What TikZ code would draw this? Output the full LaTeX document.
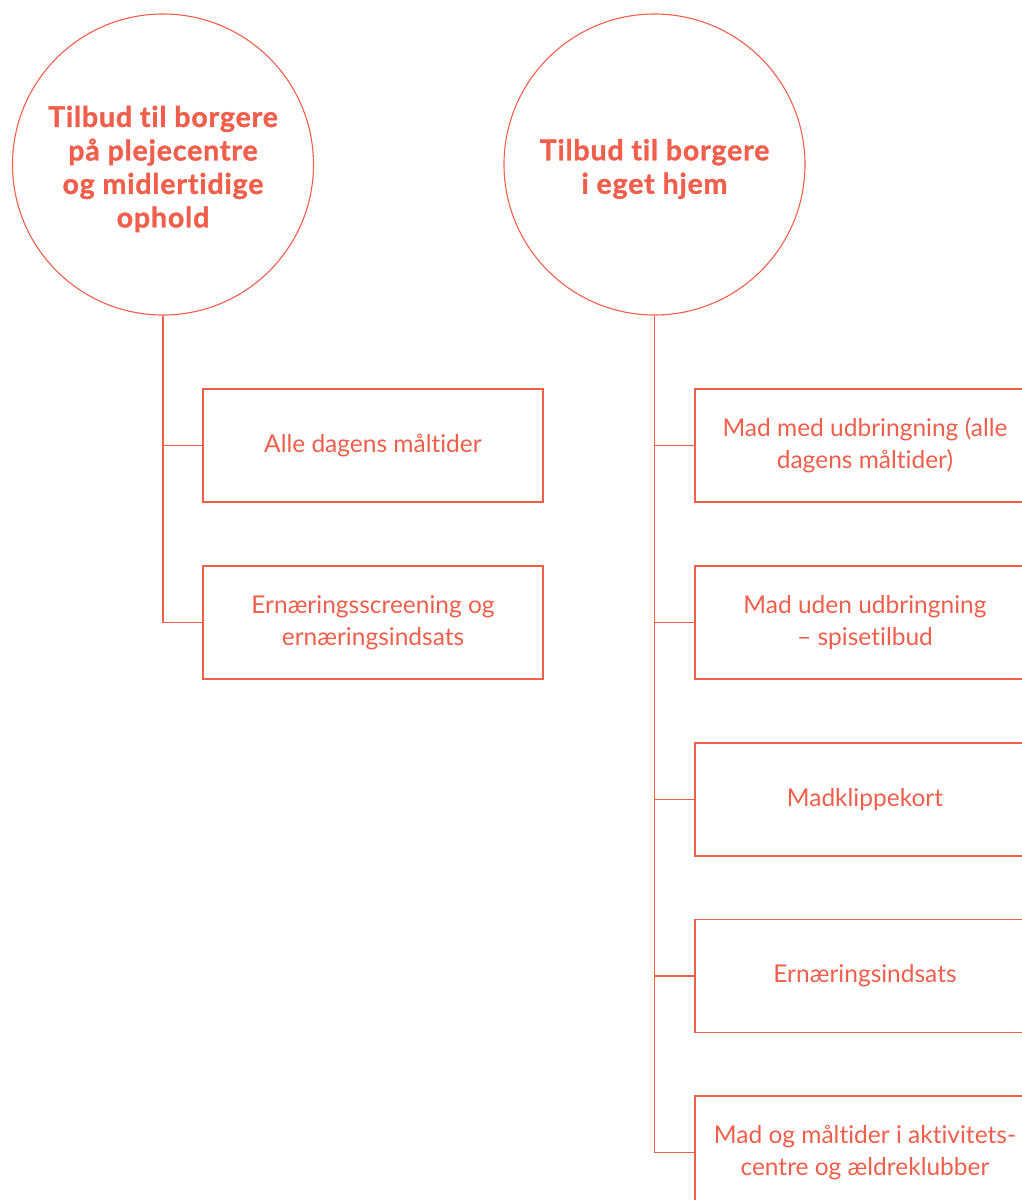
\documentclass[tikz,border=0pt]{standalone}
\usepackage{fontspec}
\setmainfont[Ligatures=NoCommon]{Lato}
\newfontfamily\headfont[Ligatures=NoCommon,LetterSpace=3,FakeBold=1.2]{Lato}
\definecolor{coral}{RGB}{239,95,75}
\begin{document}
\begin{tikzpicture}[x=1pt,y=-1pt,
  every node/.style={text=coral},
  head/.style={draw=coral,line width=1.1pt,circle,minimum size=301pt,inner sep=0pt},
  headtext/.style={align=center,inner sep=0pt,font=\headfont\bfseries\fontsize{28.5}{33.5}\selectfont},
  item/.style={draw=coral,line width=1.1pt,rectangle,minimum width=340pt,minimum height=113pt,inner sep=0pt,align=center,font=\fontsize{24.5}{32}\selectfont},
  link/.style={draw=coral,line width=1.1pt}]
\clip (0,0) rectangle (1022,1200);
\node[head] (c1) at (163,164.5) {};
\node[head] (c2) at (654.5,164.5) {};
\node[headtext] (t1) at (163,169) {Tilbud til borgere\\på plejecentre\\og midlertidige\\ophold};
\node[headtext] (t2) at (654.5,169) {Tilbud til borgere\\i eget hjem};
\node[item] (l1) at (373,445.5) {Alle dagens måltider};
\node[item] (l2) at (373,622.5) {Ernæringsscreening og\\ernæringsindsats};
\node[item] (r1) at (865,445.5) {Mad med udbringning (alle\\dagens måltider)};
\node[item] (r2) at (865,622.5) {Mad uden udbringning\\– spisetilbud};
\node[item] (r3) at (865,799.5) {Madklippekort};
\node[item] (r4) at (865,976) {Ernæringsindsats};
\node[item] (r5) at (865,1152.5) {Mad og måltider i aktivitets-\\centre og ældreklubber};
\draw[link] (c1.south) |- (l2.west);
\draw[link] (c1.south |- l1.west) -- (l1.west);
\draw[link] (c2.south) |- (r5.west);
\draw[link] (c2.south |- r1.west) -- (r1.west);
\draw[link] (c2.south |- r2.west) -- (r2.west);
\draw[link] (c2.south |- r3.west) -- (r3.west);
\draw[link] (c2.south |- r4.west) -- (r4.west);
\end{tikzpicture}
\end{document}
